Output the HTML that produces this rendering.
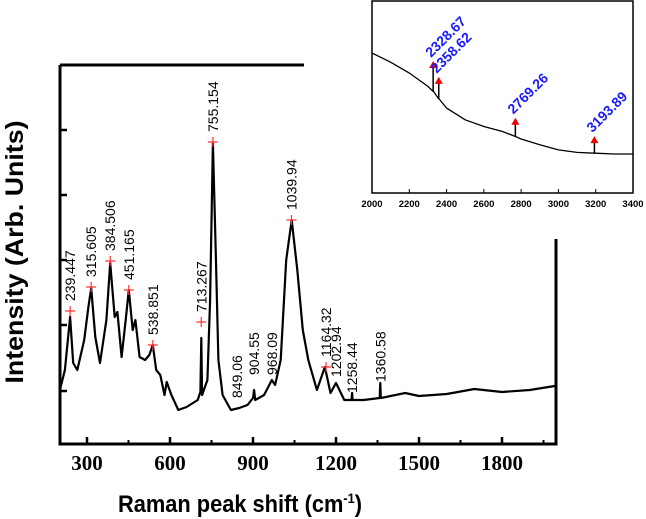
<!DOCTYPE html>
<html><head><meta charset="utf-8"><style>
html,body{margin:0;padding:0;background:#fff;}
svg{display:block;}
</style></head><body>
<svg id="chart" width="646" height="519" viewBox="0 0 646 519" xmlns="http://www.w3.org/2000/svg"></svg>
<script>
// Main spectrum data
const shifts = [202,220,239,250,265,290,305,315,330,347,370,384,400,410,425,440,451,465,475,490,510,525,538,550,565,580,588,605,630,660,700,710,713,716,735,745,755,765,775,790,820,850,880,900,904,908,940,968,980,1000,1020,1040,1060,1080,1100,1131,1160,1180,1200,1230,1256,1258,1260,1300,1358,1360,1362,1450,1500,1600,1700,1800,1900,1990];
const intensity = [54,74,127,81,74,104,137,156,107,81,124,181,127,132,87,124,154,114,124,87,84,89,99,74,69,49,62,49,34,37,44,52,106,49,64,144,301,194,84,49,34,36,39,46,54,44,49,64,59,84,184,224,174,114,84,54,77,51,61,44,44,51,44,44,46,61,46,51,48,50,55,52,54,58];
const peakLabels = ["239.447","315.605","384.506","451.165","538.851","713.267","755.154","1039.94","1164.32"];
const peakPos = [239,315,384,451,538,713,755,1039,1164];
const peakInt = [133,157,183,154,99,122,302,224,77];
const minorLabels = ["849.06","904.55","968.09","1202.94","1258.44","1360.58"];
const minorPos = [842,904,968,1200,1258,1360];
const minorInt = [46,69,69,67,51,62];
const xTicks = [300,600,900,1200,1500,1800];
const xMinor = [450,750,1050,1350,1650,1950];
const yTicks = [53,119,184,249,314];
// Inset data
const insetShift = [2000,2100,2200,2300,2328,2329,2330,2358,2359,2360,2400,2500,2600,2700,2769,2770,2800,2900,3000,3100,3193,3194,3200,3300,3400];
const insetInt = [100,89,76,60,54,54,54,45,45,45,34,20,12,6,0,0,-3,-10,-16,-19,-20,-20,-20,-21,-21];
const insetPeaks = ["2328.67","2358.62","2769.26","3193.89"];
const insetPeakPos = [2328,2358,2769,3193];
const insetPeakTop = [88,69,20,-2];
const insetTicks = [2000,2200,2400,2600,2800,3000,3200,3400];

const NS="http://www.w3.org/2000/svg";
const svg=document.getElementById('chart');
function mk(tag,attrs,parent){const e=document.createElementNS(NS,tag);for(const k in attrs)e.setAttribute(k,attrs[k]);(parent||svg).appendChild(e);return e;}
const X0=60,X1=556,Y0=444,Y1=65;
const xs=v=>4+v*0.27667;
const ys=v=>444-v;
let g=mk('g',{});


let e=mk('path',{d:`M${X0},${Y1} L304,${Y1} M${X1},239 L${X1},${Y0} L${X0},${Y0} L${X0},${Y1}`,fill:'none',stroke:'#000','stroke-width':3},g);


xTicks.forEach(t=>{
  let l=mk('line',{x1:xs(t),x2:xs(t),y1:Y0,y2:Y0-7,stroke:'#000','stroke-width':2.5},g);
  
  
  let tx=mk('text',{x:xs(t),y:470,'text-anchor':'middle','font-family':'Liberation Serif, serif','font-weight':'bold','font-size':21},g);
  tx.textContent=t;
  
  
});
xMinor.forEach(t=>{
  let l=mk('line',{x1:xs(t),x2:xs(t),y1:Y0,y2:Y0-4,stroke:'#000','stroke-width':2},g);
  
  
});
yTicks.forEach(t=>{
  let l=mk('line',{x1:X0,x2:X0+7,y1:ys(t),y2:ys(t),stroke:'#000','stroke-width':2.5},g);
  
  
});
e=mk('text',{x:118,y:512,'font-family':'Liberation Sans, sans-serif','font-weight':'bold','font-size':24,textLength:244,lengthAdjust:'spacingAndGlyphs'});
e.innerHTML='Raman peak shift (cm<tspan dy="-9" font-size="14">-1</tspan><tspan dy="9">)</tspan>';


e=mk('text',{x:0,y:0,transform:'translate(23,252) rotate(-90)','text-anchor':'middle','font-family':'Liberation Sans, sans-serif','font-weight':'bold','font-size':25,textLength:263,lengthAdjust:'spacingAndGlyphs'});
e.textContent='Intensity (Arb. Units)';


let d=shifts.map((s,i)=>(i?'L':'M')+xs(s).toFixed(1)+','+ys(intensity[i]).toFixed(1)).join(' ');
e=mk('path',{d:d,fill:'none',stroke:'#000','stroke-width':2.2,'stroke-linejoin':'round'});


peakLabels.forEach((lab,i)=>{
  const x=xs(peakPos[i]),y=ys(peakInt[i]);
  let m=mk('path',{d:`M${x-5},${y} L${x+5},${y} M${x},${y-5} L${x},${y+5}`,stroke:'#f33','stroke-width':1.2});
  
  
  let t=mk('text',{x:0,y:0,transform:`translate(${x+5},${y-10}) rotate(-90)`,'font-family':'Liberation Sans, sans-serif','font-size':14});
  t.textContent=lab;
  
  
});
minorLabels.forEach((lab,i)=>{
  const x=xs(minorPos[i]),y=ys(minorInt[i]);
  let t=mk('text',{x:0,y:0,transform:`translate(${x+5},${y}) rotate(-90)`,'font-family':'Liberation Sans, sans-serif','font-size':14});
  t.textContent=lab;
  
  
});
// inset
const IX0=372,IX1=633,IY0=193,IY1=1;
const ixs=v=>IX0+(v-2000)*(IX1-IX0)/1400;
const iys=v=>53+(100-v)*0.835;
let ig=mk('g',{});


e=mk('rect',{x:IX0,y:IY1,width:IX1-IX0,height:IY0-IY1,fill:'#fff',stroke:'#000','stroke-width':1.5},ig);


insetTicks.forEach(t=>{
  let l=mk('line',{x1:ixs(t),x2:ixs(t),y1:IY0,y2:IY0-4,stroke:'#000','stroke-width':1},ig);
  
  
  let tx=mk('text',{x:ixs(t),y:207,'text-anchor':'middle','font-family':'Liberation Sans, sans-serif','font-weight':'bold','font-size':9.5},ig);
  tx.textContent=t;
  
  
});
d=insetShift.map((s,i)=>(i?'L':'M')+ixs(s).toFixed(1)+','+iys(insetInt[i]).toFixed(1)).join(' ');
e=mk('path',{d:d,fill:'none',stroke:'#000','stroke-width':1.3},ig);


insetPeaks.forEach((lab,i)=>{
  const x=ixs(insetPeakPos[i]);
  let j=insetShift.indexOf(insetPeakPos[i]);
  const yb=j>=0?iys(insetInt[j]):iys(0);
  const yt=iys(insetPeakTop[i]);
  let s=mk('line',{x1:x,x2:x,y1:yb,y2:yt+4,stroke:'#000','stroke-width':1.5},ig);
  
  
  let a=mk('path',{d:`M${x-4},${yt+5} L${x+4},${yt+5} L${x},${yt-2} Z`,fill:'#e00'},ig);
  
  
  let t=mk('text',{x:0,y:0,transform:`translate(${x-2},${yt-5}) rotate(-45)`,'font-family':'Liberation Sans, sans-serif','font-weight':'bold','font-size':14,fill:'#1a1aff'},ig);
  t.textContent=lab;
  
  
});
</script>
</body></html>
